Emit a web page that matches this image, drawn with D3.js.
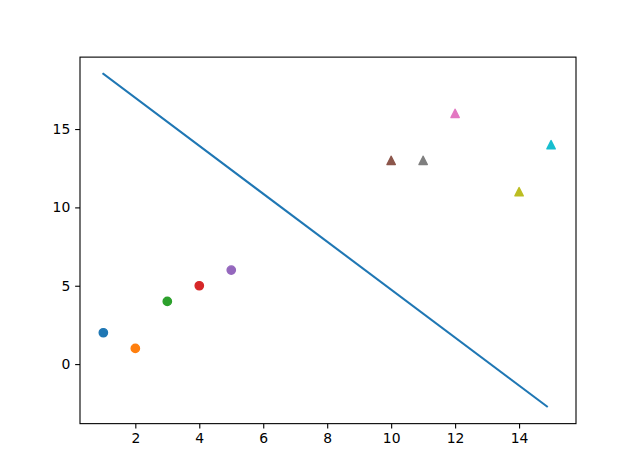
<!DOCTYPE html>
<html>
<head>
<meta charset="utf-8">
<script src="https://cdn.jsdelivr.net/npm/d3@7"></script>
<style>
  body { margin: 0; background: #fff; }
  svg { display: block; }
  .tick text { font-family: "DejaVu Sans", sans-serif; font-size: 13.9px; fill: #000; }
</style>
</head>
<body>
<svg width="640" height="476"></svg>
<script>
    // scatter points (two groups) and the separating line
    const circleX = [1, 2, 3, 4, 5];
    const circleY = [2, 1, 4, 5, 6];
    const circleColors = ['#1f77b4', '#ff7f0e', '#2ca02c', '#d62728', '#9467bd'];
    const triX = [10, 11, 12, 14, 15];
    const triY = [13, 13, 16, 11, 14];
    const triColors = ['#8c564b', '#7f7f7f', '#e377c2', '#bcbd22', '#17becf'];
    const lineX = [1, 14.87];
    const lineY = [18.52, -2.7];
    const lineColor = '#1f77b4';
    const xTicks = [2, 4, 6, 8, 10, 12, 14];
    const yTicks = [0, 5, 10, 15];
    const xDomain = [0.27, 15.78];
    const yDomain = [-3.8, 19.59];

    const svg = d3.select('svg');
    const width = 640, height = 476;
    const margin = { top: 0.12 * height, right: 0.1 * width, bottom: 0.11 * height, left: 0.125 * width };
    const w = width - margin.left - margin.right;
    const h = height - margin.top - margin.bottom;

    const xScale = d3.scaleLinear().domain(xDomain).range([0, w]);
    const yScale = d3.scaleLinear().domain(yDomain).range([h, 0]);

    const g = svg.append('g')
      .attr('transform', 'translate(' + margin.left + ',' + margin.top + ')');

    // line
    const lineData = lineX.map(function(x, i) { return [x, lineY[i]]; });
    g.append('path')
      .datum(lineData)
      .attr('fill', 'none')
      .attr('stroke', lineColor)
      .attr('stroke-width', 2.08)
      .attr('stroke-linecap', 'square')
      .attr('d', d3.line().x(function(d) { return xScale(d[0]); }).y(function(d) { return yScale(d[1]); }));

    // circles
    g.selectAll('circle.pt')
      .data(circleX.map(function(x, i) { return { x: x, y: circleY[i], c: circleColors[i] }; }))
      .enter().append('circle')
      .attr('class', 'pt')
      .attr('cx', function(d) { return xScale(d.x); })
      .attr('cy', function(d) { return yScale(d.y); })
      .attr('r', 4.17)
      .attr('fill', function(d) { return d.c; })
      .attr('stroke', function(d) { return d.c; })
      .attr('stroke-width', 1.39);

    // triangles
    const s = 4.17;
    g.selectAll('path.tri')
      .data(triX.map(function(x, i) { return { x: x, y: triY[i], c: triColors[i] }; }))
      .enter().append('path')
      .attr('class', 'tri')
      .attr('transform', function(d) { return 'translate(' + xScale(d.x) + ',' + yScale(d.y) + ')'; })
      .attr('d', 'M0,' + (-s) + 'L' + (-s) + ',' + s + 'L' + s + ',' + s + 'Z')
      .attr('fill', function(d) { return d.c; })
      .attr('stroke', function(d) { return d.c; })
      .attr('stroke-width', 1.39)
      .attr('stroke-linejoin', 'round');

    // axes
    const xAxis = d3.axisBottom(xScale).tickValues(xTicks).tickSize(4.86).tickPadding(4.86).tickSizeOuter(0);
    const yAxis = d3.axisLeft(yScale).tickValues(yTicks).tickSize(4.86).tickPadding(4.86).tickSizeOuter(0);
    const gX = g.append('g').attr('transform', 'translate(0,' + h + ')').call(xAxis);
    const gY = g.append('g').call(yAxis);
    [gX, gY].forEach(function(a) {
      a.select('.domain').remove();
      a.selectAll('.tick line').attr('stroke', '#000').attr('stroke-width', 1.1);
    });

    // frame
    g.append('rect')
      .attr('width', w)
      .attr('height', h)
      .attr('fill', 'none')
      .attr('stroke', '#000')
      .attr('stroke-width', 1.1);
</script>
</body>
</html>
